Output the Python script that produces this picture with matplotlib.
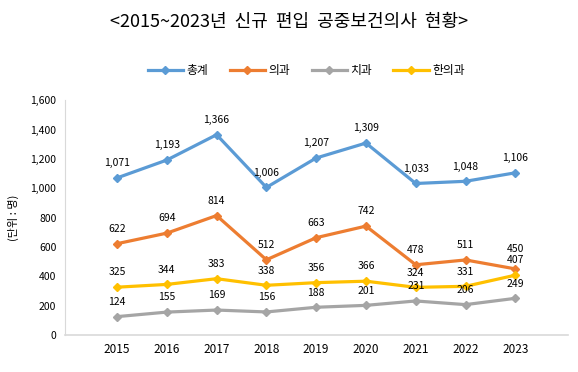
import matplotlib.pyplot as plt
import matplotlib

matplotlib.rcParams['font.family'] = ['Noto Sans CJK KR', 'DejaVu Sans']

years = ['2015', '2016', '2017', '2018', '2019', '2020', '2021', '2022', '2023']
total = [1071, 1193, 1366, 1006, 1207, 1309, 1033, 1048, 1106]
medical = [622, 694, 814, 512, 663, 742, 478, 511, 450]
dental = [124, 155, 169, 156, 188, 201, 231, 206, 249]
oriental = [325, 344, 383, 338, 356, 366, 324, 331, 407]

series = [('총계', total, '#5B9BD5'),
          ('의과', medical, '#ED7D31'),
          ('치과', dental, '#A5A5A5'),
          ('한의과', oriental, '#FFC000')]

fig = plt.figure(figsize=(5.78, 3.72), dpi=100)
ax = fig.add_axes([0.112, 0.10, 0.87, 0.63])

x = list(range(len(years)))
for name, vals, color in series:
    ax.plot(x, vals, color=color, lw=2.3, marker='D', ms=4, label=name)
    for xi, v in zip(x, vals):
        dy = 7
        if name == '의과' and xi == 8:
            dy = 11  # 450 sits right above 407 in the original
        ax.annotate(f'{v:,}', (xi, v), xytext=(0, dy), textcoords='offset points',
                    ha='center', va='bottom', fontsize=7.5, color='black')

ax.set_xlim(-1.05, 9.05)
ax.set_ylim(0, 1600)
ax.set_yticks(range(0, 1601, 200))
ax.set_yticklabels([f'{v:,}' for v in range(0, 1601, 200)], fontsize=7.5)
ax.set_xticks(x)
ax.set_xticklabels(years, fontsize=8.5)
ax.tick_params(length=0, pad=6)
for s in ['top', 'right']:
    ax.spines[s].set_visible(False)
ax.spines['left'].set_color('#D9D9D9')
ax.spines['bottom'].set_color('#D9D9D9')
ax.spines['bottom'].set_linewidth(1.2)
ax.set_ylabel('(단위 : 명)', fontsize=8, labelpad=8)

fig.text(0.5, 0.94, '<2015~2023년  신규  편입  공중보건의사  현황>', ha='center', va='center',
         fontsize=13)
fig.legend(loc='center', bbox_to_anchor=(0.53, 0.81), ncol=4, frameon=False,
           fontsize=8.5, handlelength=3, columnspacing=1.8, handletextpad=0.3)

plt.savefig('out.png', dpi=100)
